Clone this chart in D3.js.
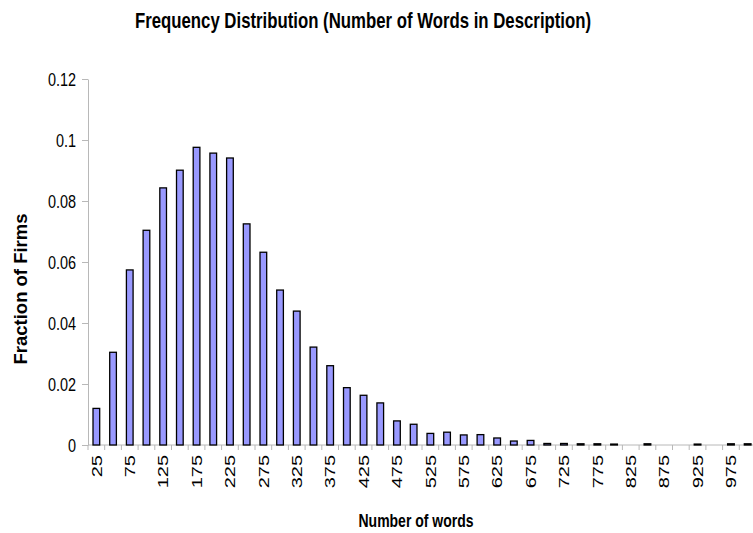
<!DOCTYPE html>
<html>
<head>
<meta charset="utf-8">
<script src="https://cdn.jsdelivr.net/npm/d3@7"></script>
<style>
  body { margin: 0; background: #fff; }
  text { font-family: "Liberation Sans", Arial, sans-serif; fill: #000; }
</style>
</head>
<body>
<div id="content"></div>
<script>
// Word-count bins (upper edge of each bin) and fraction of firms in each.
var categories = [25, 50, 75, 100, 125, 150, 175, 200, 225, 250,
                  275, 300, 325, 350, 375, 400, 425, 450, 475, 500,
                  525, 550, 575, 600, 625, 650, 675, 700, 725, 750,
                  775, 800, 825, 850, 875, 900, 925, 950, 975, 1000];
var fractions = [0.0120, 0.0304, 0.0574, 0.0704, 0.0843, 0.0901, 0.0976, 0.0957, 0.0941, 0.0725,
                 0.0632, 0.0508, 0.0439, 0.0321, 0.0260, 0.0188, 0.0163, 0.0138, 0.0079, 0.0068,
                 0.0038, 0.0042, 0.0033, 0.0034, 0.0023, 0.0013, 0.0015, 0.0005, 0.0005, 0.0004,
                 0.0004, 0.0003, 0, 0.0004, 0, 0, 0.0003, 0, 0.0004, 0.0004];
var yTicks = [0, 0.02, 0.04, 0.06, 0.08, 0.1, 0.12];

var data = categories.map(function(c, i) { return {bin : c, value : fractions[i]}; });

var W = 753, H = 533;
var svg = d3.select('#content').append('svg').attr('width', W).attr('height', H);

var x0 = 88, x1 = 756, yTop = 79, yBottom = 445;
var scaleX = d3.scaleBand().domain(categories).range([ x0, x1 ])
                 .paddingInner(0.6).paddingOuter(0.3);
var scaleY = d3.scaleLinear().domain([ 0, 0.12 ]).range([ yBottom, yTop ]);

// The original text is condensed, so squeeze it horizontally.
function narrowText(x, y, str, size, sx, bold, anchor) {
  var g = svg.append('g').attr('transform', 'translate(' + x + ',' + y + ') scale(' + sx + ',1)');
  return g.append('text')
      .attr('text-anchor', anchor || 'middle')
      .style('font-size', size + 'px')
      .style('font-weight', bold ? 'bold' : 'normal')
      .text(str);
}

// Y axis.
var yAxis = svg.append('g')
    .attr('transform', 'translate(' + x0 + ',0)')
    .call(d3.axisLeft(scaleY).tickValues(yTicks).tickSize(6).tickSizeOuter(0).tickFormat(''));
yAxis.select('.domain').attr('stroke', '#b8b8b8');
yAxis.selectAll('.tick line').attr('stroke', '#b8b8b8');
yTicks.forEach(function(t) {
  narrowText(76, scaleY(t) + 6.5, String(+t.toFixed(2)), 18.5, 0.78, false, 'end');
});

// X axis: ticks between bins, labels on every other bin.
var xAxis = svg.append('g').attr('transform', 'translate(0,' + yBottom + ')');
xAxis.append('line').attr('x1', x0).attr('x2', x1).attr('stroke', '#b8b8b8');
var step = scaleX.step();
d3.range(categories.length + 1).forEach(function(i) {
  var xx = x0 + i * step;
  xAxis.append('line').attr('x1', xx).attr('x2', xx).attr('y1', 0).attr('y2', 5)
      .attr('stroke', '#b8b8b8');
});
categories.forEach(function(c, i) {
  if (i % 2 !== 0) return;
  var cx = scaleX(c) + scaleX.bandwidth() / 2;
  svg.append('g')
      .attr('transform', 'translate(' + (cx + 5.2) + ',' + 455 + ') scale(0.72,1) rotate(-90)')
      .append('text')
      .attr('text-anchor', 'end')
      .style('font-size', '20px')
      .text(c);
});

// Bars.
svg.append('g').selectAll('rect')
    .data(data)
    .enter()
    .append('rect')
    .attr('x', function(d) { return scaleX(d.bin); })
    .attr('y', function(d) { return scaleY(d.value); })
    .attr('width', scaleX.bandwidth())
    .attr('height', function(d) { return yBottom - scaleY(d.value); })
    .style('fill', '#9999ff')
    .style('stroke', '#000')
    .style('stroke-width', 1.3);

// Titles.
narrowText(363, 28.3, 'Frequency Distribution (Number of Words in Description)', 22, 0.763, true);
narrowText(416, 527, 'Number of words', 17.5, 0.8, true);
svg.append('text')
    .attr('transform', 'translate(27,289) rotate(-90)')
    .attr('text-anchor', 'middle')
    .style('font-size', '18.5px')
    .style('font-weight', 'bold')
    .text('Fraction of Firms');
</script>
</body>
</html>
